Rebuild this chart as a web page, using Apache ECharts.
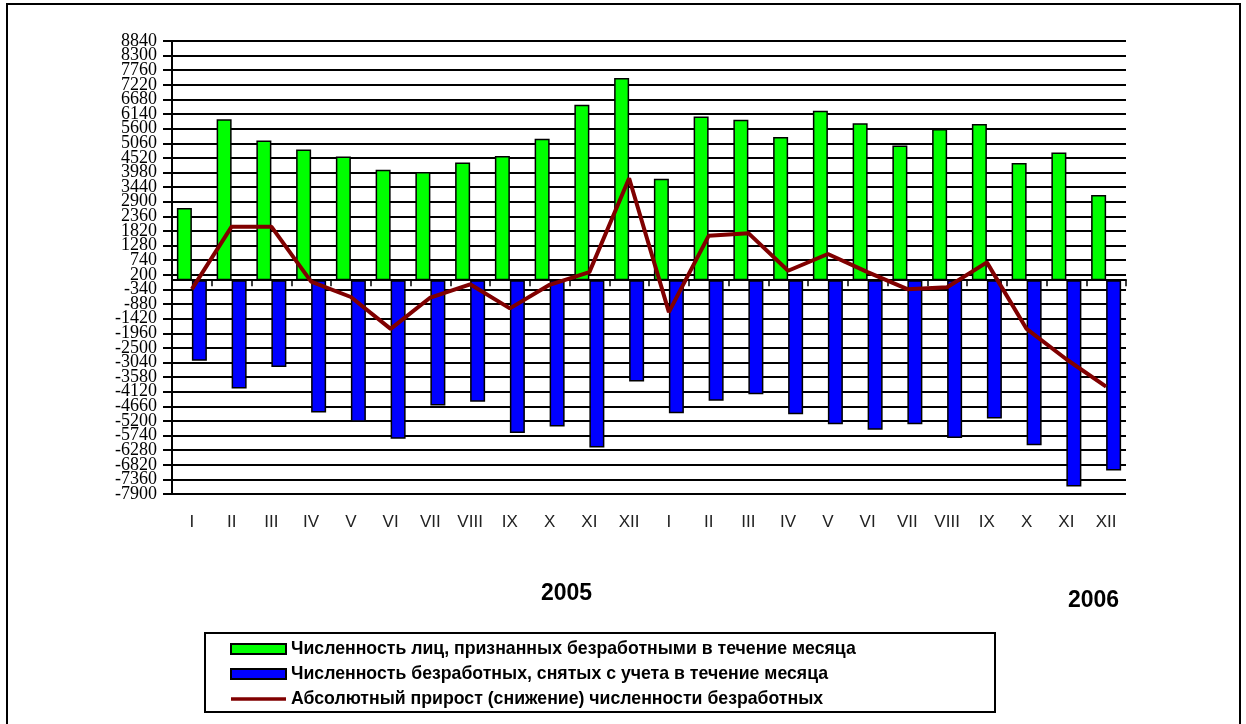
<!DOCTYPE html>
<html>
<head>
<meta charset="utf-8">
<script src="https://cdn.jsdelivr.net/npm/echarts@6/dist/echarts.min.js"></script>
<style>
html,body{margin:0;padding:0;background:#fff;}
#chart{width:1246px;height:724px;}
</style>
</head>
<body>
<div id="chart"></div>
<script>
const months = ['I','II','III','IV','V','VI','VII','VIII','IX','X','XI','XII','I','II','III','IV','V','VI','VII','VIII','IX','X','XI','XII'];
const registered = [2670, 5950, 5160, 4830, 4570, 4080, 4000, 4350, 4590, 5225, 6480, 7470,
                    3750, 6050, 5930, 5290, 6265, 5805, 4975, 5585, 5770, 4330, 4720, 3145];
const removed = [-2980, -4000, -3210, -4890, -5230, -5860, -4630, -4495, -5650, -5405, -6180, -3745,
                 -4915, -4455, -4210, -4950, -5320, -5530, -5320, -5835, -5110, -6095, -7625, -7030];
const netChange = [-330, 1980, 1980, -50, -620, -1800, -640, -150, -1040, -170, 300, 3770,
                   -1180, 1640, 1740, 350, 970, 300, -330, -260, 660, -1800, -2920, -3930];
const yMin = -7900, yMax = 8840, yStep = 540;
const seriesNames = [
  'Численность лиц, признанных безработными в течение месяца',
  'Численность безработных, снятых с учета в течение месяца',
  'Абсолютный прирост (снижение) численности безработных'
];
const years = ['2005', '2006'];

const yLabelStyle = {
  margin: 15,
  fontFamily: 'Liberation Serif, Times New Roman, serif', fontSize: 18, color: '#000',
  formatter: function (v) { return String(Math.round(v)); }
};

const chart = echarts.init(document.getElementById('chart'), null, {renderer: 'canvas'});
chart.setOption({
  animation: false,
  backgroundColor: '#fff',
  grid: {left: 172, right: 120, top: 41, bottom: 230, containLabel: false},
  legend: {
    orient: 'vertical',
    left: 230,
    top: 640,
    padding: 0,
    itemWidth: 55,
    itemHeight: 10,
    itemGap: 7,
    textStyle: {fontFamily: 'Liberation Sans, Arial, sans-serif', fontWeight: 'bold', fontSize: 17.7, lineHeight: 17, color: '#000'},
    data: [
      {name: seriesNames[0], icon: 'rect'},
      {name: seriesNames[1], icon: 'rect'},
      {name: seriesNames[2], icon: 'path://M0,0H110V7H0Z'}
    ]
  },
  xAxis: [
    {
      type: 'category',
      data: months,
      position: 'bottom',
      axisLine: {show: true, onZero: true, lineStyle: {color: '#000', width: 2}},
      axisTick: {show: true, alignWithLabel: false, length: 6, lineStyle: {color: '#000', width: 1.5}},
      axisLabel: {show: false},
      splitLine: {show: false}
    },
    {
      type: 'category',
      data: months,
      position: 'bottom',
      axisLine: {show: false, onZero: false},
      axisTick: {show: false},
      axisLabel: {show: true, margin: 20, fontFamily: 'Liberation Sans, Arial, sans-serif', fontSize: 17, color: '#222', interval: 0},
      splitLine: {show: false}
    }
  ],
  yAxis: [
    {
      type: 'value',
      position: 'left',
      min: yMin,
      max: yMax,
      interval: yStep,
      axisLine: {show: true, onZero: false, lineStyle: {color: '#000', width: 2}},
      axisTick: {show: true, length: 9, lineStyle: {color: '#000', width: 2}},
      axisLabel: Object.assign({showMinLabel: false, showMaxLabel: false}, yLabelStyle),
      splitLine: {show: true, lineStyle: {color: '#000', width: 2}}
    },
    {
      type: 'value',
      position: 'left',
      offset: 0,
      min: yMin,
      max: yMax,
      interval: yMax - yMin,
      axisLine: {show: false, onZero: false},
      axisTick: {show: true, length: 9, lineStyle: {color: '#000', width: 2}},
      axisLabel: Object.assign({showMinLabel: true, showMaxLabel: true}, yLabelStyle),
      splitLine: {show: false}
    }
  ],
  series: [
    {
      name: seriesNames[0],
      type: 'bar',
      xAxisIndex: 0,
      yAxisIndex: 0,
      data: registered,
      barWidth: 15,
      barGap: '0%',
      itemStyle: {color: '#00ff00', borderColor: '#000', borderWidth: 1.5}
    },
    {
      name: seriesNames[1],
      type: 'bar',
      xAxisIndex: 0,
      yAxisIndex: 0,
      data: removed,
      barWidth: 15,
      barGap: '0%',
      itemStyle: {color: '#0000ff', borderColor: '#000', borderWidth: 1.5}
    },
    {
      name: seriesNames[2],
      type: 'line',
      xAxisIndex: 0,
      yAxisIndex: 0,
      data: netChange,
      symbol: 'none',
      symbolKeepAspect: true,
      z: 5,
      lineStyle: {color: '#800000', width: 4},
      itemStyle: {color: '#800000', borderWidth: 0}
    }
  ],
  graphic: [
    {type: 'rect', shape: {x: 7, y: 4, width: 1233, height: 730}, style: {fill: 'none', stroke: '#000', lineWidth: 2}, silent: true},
    {type: 'rect', shape: {x: 205, y: 633, width: 790, height: 79}, style: {fill: 'none', stroke: '#000', lineWidth: 2}, silent: true, z: -1},
    {type: 'text', left: 541, top: 582, style: {text: years[0], font: 'bold 23px "Liberation Sans", Arial, sans-serif', fill: '#000'}, silent: true},
    {type: 'text', left: 1068, top: 589, style: {text: years[1], font: 'bold 23px "Liberation Sans", Arial, sans-serif', fill: '#000'}, silent: true}
  ]
});
</script>
</body>
</html>
